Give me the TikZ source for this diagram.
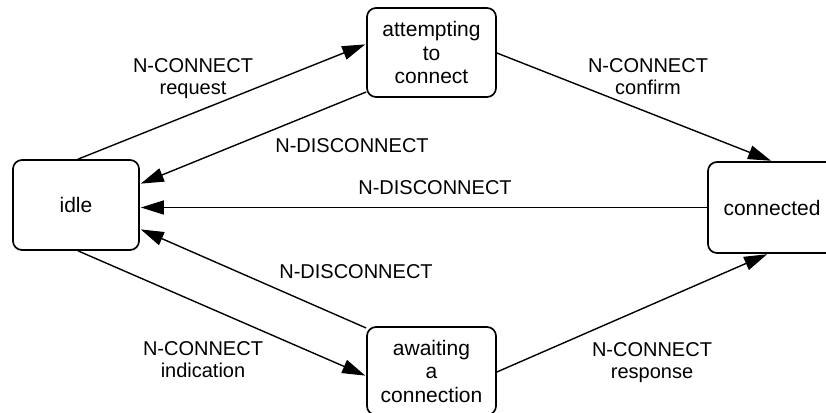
\documentclass[tikz,border=0pt]{standalone}
\usepackage{fontspec}
\setmainfont{Liberation Sans}
\usetikzlibrary{arrows.meta,calc}
\begin{document}
\begin{tikzpicture}[x=1pt,y=-1pt,
  state/.style={draw=black,line width=1.7pt,rounded corners=9pt,align=center,
    inner sep=0pt,font=\fontsize{21}{23.5}\selectfont},
  lbl/.style={align=center,inner sep=0pt,font=\fontsize{20}{22}\selectfont},
  conn/.style={line width=1.4pt,-{Triangle[length=23pt,width=14pt]},shorten >=1pt}]
\useasboundingbox (0,0) rectangle (826,412);
\node[state,minimum width=126pt,minimum height=90pt] (idle) at (76,205) {idle};
\node[state,minimum width=129pt,minimum height=89pt] (att) at (431.5,52.5) {attempting\\to\\connect};
\node[state,minimum width=128pt,minimum height=91pt] (con) at (772,207.5) {connected};
\node[state,minimum width=129pt,minimum height=88pt] (awa) at (431.5,371) {awaiting\\a\\connection};
% labels
\node[lbl] (l1) at (193,79) {N-CONNECT\\request};
\node[lbl] (l2) at (352,146) {N-DISCONNECT};
\node[lbl] (l3) at (648,77) {N-CONNECT\\confirm};
\node[lbl] (l4) at (435,188) {N-DISCONNECT};
\node[lbl] (l5) at (356,272) {N-DISCONNECT};
\node[lbl] (l6) at (203,360) {N-CONNECT\\indication};
\node[lbl] (l7) at (652,363) {N-CONNECT\\response};
% connectors
\draw[conn] ([xshift=2pt]idle.north) -- ([yshift=8.5pt]att.west);
\draw[conn] ([yshift=-39.5pt]att.west) -- ([yshift=21pt]idle.east);
\draw[conn] ([yshift=-0.5pt]att.east) -- (con.north);
\draw[conn] (con.west) -- (con.west -| idle.east);
\draw[conn] ([yshift=43pt]awa.west) -- ([yshift=-24pt]idle.east);
\draw[conn] ([xshift=2pt]idle.south) -- ([yshift=-5pt]awa.west);
\draw[conn] ([yshift=-1pt]awa.east) -- ([xshift=-4pt]con.south);
\end{tikzpicture}
\end{document}
